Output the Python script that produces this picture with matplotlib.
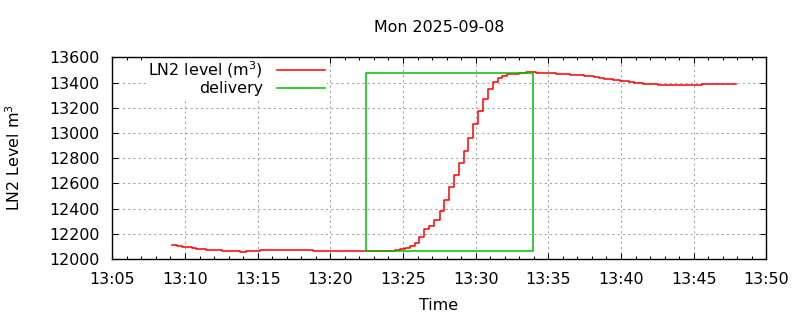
import matplotlib
matplotlib.use("Agg")
import matplotlib.pyplot as plt
from matplotlib.ticker import FixedLocator, MultipleLocator

# ---------------- data ----------------
title_text = "Mon 2025-09-08"
x_label = "Time"
y_label = "LN2 Level m$^3$"
level_label = "LN2 level (m$^3$)"
delivery_label = "delivery"

level_times = [
    "13:09:08", "13:09:29", "13:09:49", "13:10:28", "13:10:46", "13:11:27",
    "13:12:32", "13:13:47", "13:14:10", "13:15:10", "13:18:50", "13:24:28",
    "13:24:48", "13:25:08", "13:25:31", "13:25:50", "13:26:08", "13:26:28",
    "13:26:49", "13:27:10", "13:27:31", "13:27:51", "13:28:09", "13:28:29",
    "13:28:50", "13:29:11", "13:29:30", "13:29:51", "13:30:11", "13:30:32",
    "13:30:50", "13:31:11", "13:31:31", "13:31:50", "13:32:11", "13:32:31",
    "13:33:00", "13:33:28", "13:34:10", "13:35:31", "13:36:31", "13:37:29",
    "13:38:10", "13:38:31", "13:38:50", "13:39:29", "13:39:54", "13:40:32",
    "13:40:52", "13:41:29", "13:42:31", "13:45:34", "13:47:54",
]
level_values = [
    12108, 12100, 12092, 12084, 12077, 12069,
    12060, 12052, 12060, 12069, 12060, 12069,
    12077, 12085, 12100, 12127, 12172, 12241,
    12262, 12307, 12378, 12471, 12569, 12664,
    12759, 12854, 12957, 13068, 13171, 13267,
    13346, 13401, 13433, 13452, 13465, 13470,
    13477, 13481, 13473, 13468, 13460, 13452,
    13441, 13433, 13425, 13417, 13409, 13401,
    13393, 13388, 13380, 13386, 13386,
]

delivery_times = ["13:22:29", "13:22:29", "13:33:58", "13:33:58", "13:22:29"]
delivery_values = [12063, 13473, 13473, 12063, 12063]

xtick_labels = ["13:05", "13:10", "13:15", "13:20", "13:25",
                "13:30", "13:35", "13:40", "13:45", "13:50"]
ytick_values = [12000, 12200, 12400, 12600, 12800, 13000, 13200, 13400, 13600]


def to_minutes(s):
    parts = [int(p) for p in s.split(":")]
    h, m = parts[0], parts[1]
    sec = parts[2] if len(parts) > 2 else 0
    return (h - 13) * 60 + m + sec / 60.0


lt = [to_minutes(t) for t in level_times]
dt = [to_minutes(t) for t in delivery_times]
xt = [to_minutes(t) for t in xtick_labels]

# ---------------- figure ----------------
FS = 11.4
plt.rcParams["font.family"] = ["DejaVu Sans"]
plt.rcParams["mathtext.fontset"] = "dejavusans"

fig = plt.figure(figsize=(8, 3.2), dpi=100)
ax = fig.add_axes([112.3 / 800, 61 / 320, 654 / 800, 201.7 / 320])

ax.plot(lt, level_values, drawstyle="steps-post", color="#ff0000",
        lw=1.1, label=level_label)
ax.plot(dt, delivery_values, color="#00c000", lw=1.1, label=delivery_label)

ax.set_xlim(xt[0], xt[-1])
ax.set_ylim(ytick_values[0], ytick_values[-1])
ax.xaxis.set_major_locator(FixedLocator(xt))
ax.set_xticklabels(xtick_labels)
ax.xaxis.set_minor_locator(MultipleLocator(1))
ax.yaxis.set_major_locator(FixedLocator(ytick_values))
ax.set_yticklabels([str(v) for v in ytick_values])

ax.grid(True, which="major", color="#a0a0a0", linestyle=(0, (2, 3)), lw=0.75)
ax.set_axisbelow(True)

ax.tick_params(which="both", direction="in", top=True, right=True,
               width=0.75, color="black", labelsize=FS)
ax.tick_params(which="major", length=4)
ax.tick_params(which="minor", length=2.5)
ax.tick_params(axis="x", which="major", pad=9.5)
ax.tick_params(axis="y", which="major", pad=9)
for sp in ax.spines.values():
    sp.set_linewidth(1.0)
    sp.set_color("black")
    sp.set_zorder(3)

leg = ax.legend(loc="upper right", bbox_to_anchor=(((325 + 1.6) - 112.3) / 654, 1.0),
                borderaxespad=0, markerfirst=False, frameon=True,
                facecolor="white", edgecolor="none", framealpha=1,
                fancybox=False, fontsize=FS, handlelength=3.05,
                handletextpad=0.85, labelspacing=0.1, borderpad=0.1)
leg.set_zorder(2.2)

fig.text(439 / 800, 1 - 27 / 320, title_text, ha="center", va="center",
         fontsize=FS)
fig.text(439 / 800, 1 - 305 / 320, x_label, ha="center", va="center",
         fontsize=FS)
fig.text(14 / 800, 1 - 158 / 320, y_label, ha="center", va="center",
         rotation=90, fontsize=FS)

fig.savefig("out.png", dpi=100)
